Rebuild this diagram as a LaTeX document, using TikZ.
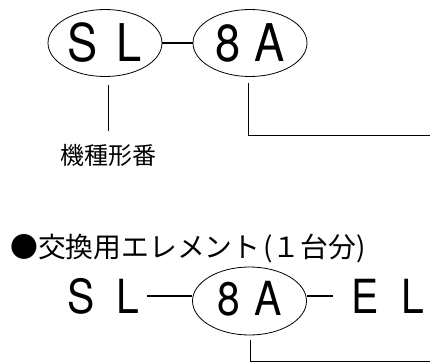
\documentclass[tikz,border=0pt]{standalone}
\usepackage{fontspec}
\usetikzlibrary{shapes.geometric}
\setmainfont{TeX Gyre Heros}
\newfontfamily\CodeFont[FakeStretch=0.87]{TeX Gyre Heros}
\newfontfamily\JpFont{Noto Sans CJK JP}
\newcommand\CodeSize[1]{\CodeFont\fontsize{#1}{#1}\selectfont}

\begin{document}
\begin{tikzpicture}[x=1pt,y=-1pt,
    oval/.style={draw,ellipse,line width=0.8pt,minimum width=114pt,minimum height=67pt,inner sep=0pt},
    link/.style={line width=1.6pt},
    lead/.style={line width=0.8pt},
    note/.style={font=\JpFont\fontsize{24}{24}\selectfont,inner sep=0pt}]
    \useasboundingbox (0,0) rectangle (430,363);
    % model code
    \node[oval,font=\CodeSize{52}] (SL) at (105,43) {S\hspace{19pt}L};
    \node[oval,font=\CodeSize{52}] (Size) at (250,43) {8\hspace{14pt}A};
    \draw[link] (SL.east) -- (Size.west);
    \node[note] (Kind) at (108,155) {機種形番};
    \draw[lead,shorten >=13pt] ([yshift=-8pt]SL.south -| Kind) -- (Kind.north);
    \coordinate (Out) at (430,135);
    \draw[lead] ([xshift=-2pt,yshift=-6pt]Size.south) |- (Out);
    % element
    \node[note,font=\JpFont\fontsize{27.8}{28}\selectfont,anchor=west] (Head) at (10,248) {●交換用エレメント\hspace{3pt}(１台分)};
    \node[font=\CodeSize{47},inner sep=0pt] (SL2) at (103.5,296) {S\hspace{21pt}L};
    \node[oval,minimum height=68pt,font=\CodeSize{47}] (Size2) at (249.5,301) {\raisebox{5pt}{8\hspace{14pt}A}};
    \node[font=\CodeSize{47},inner sep=0pt] (EL) at (388,296) {E\hspace{23pt}L};
    \draw[link] ([xshift=8pt]SL2.east) -- (SL2.east -| Size2.west);
    \draw[link] (Size2.east |- EL) -- ([xshift=-18pt]EL.west);
    \coordinate (Out2) at (430,361);
    \draw[lead] ([xshift=1pt,yshift=-5pt]Size2.south) |- (Out2);
\end{tikzpicture}
\end{document}
